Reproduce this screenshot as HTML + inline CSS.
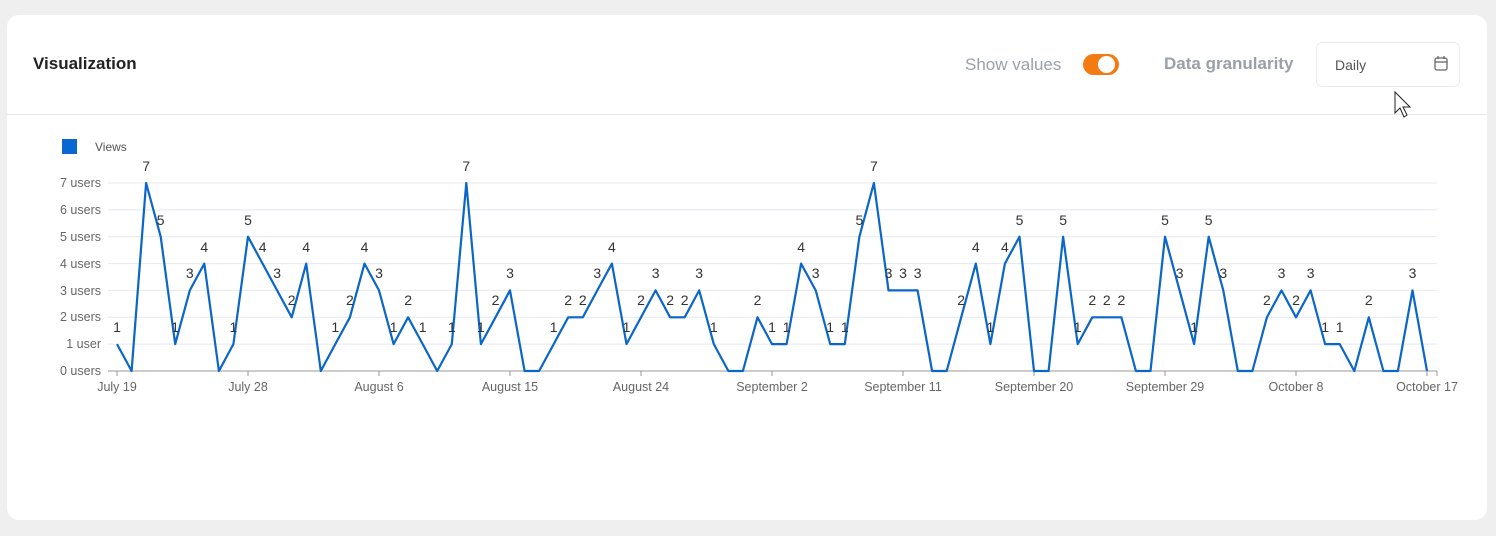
<!DOCTYPE html>
<html><head><meta charset="utf-8"><style>
html,body{margin:0;padding:0;width:1496px;height:536px;background:#efefef;overflow:hidden;font-family:"Liberation Sans",sans-serif}
.card{position:absolute;left:7px;top:15px;width:1480px;height:505px;background:#fff;border-radius:12px}
.sep{position:absolute;left:7px;top:114px;width:1480px;height:1px;background:#e6e6e6}
.t{position:absolute;white-space:nowrap}
</style></head><body>
<div class="card"></div>
<div class="sep"></div>
<div class="t" style="left:33px;top:54px;font-size:17px;font-weight:bold;color:#222">Visualization</div>
<div class="t" style="left:965px;top:55px;font-size:17px;color:#9aa0a8">Show values</div>
<div class="t" style="left:1083px;top:54px;width:36px;height:21px;border-radius:11px;background:#f47a14"></div>
<div class="t" style="left:1098px;top:56px;width:17px;height:17px;border-radius:50%;background:#fff"></div>
<div class="t" style="left:1164px;top:54px;font-size:17px;font-weight:bold;color:#9aa0a8">Data granularity</div>
<div class="t" style="left:1316px;top:42px;width:142px;height:43px;border:1px solid #ececec;border-radius:6px;background:#fff"></div>
<div class="t" style="left:1335px;top:57px;font-size:14px;color:#555">Daily</div>
<svg class="t" style="left:0;top:0" width="1496" height="536">
<g fill="none" stroke="#666" stroke-width="1.3"><rect x="1435" y="58" width="12" height="12" rx="2"/><line x1="1435" y1="62" x2="1447" y2="62"/><line x1="1438" y1="56" x2="1438" y2="59"/><line x1="1444" y1="56" x2="1444" y2="59"/></g>
<path d="M1395 92 L1395 113 L1400 108 L1404 117 L1407 115 L1403 107 L1410 107 Z" fill="#fff" stroke="#222" stroke-width="1"/>
<rect x="62" y="139" width="15" height="15" fill="#0a66d1"/>
<text x="95" y="151" font-size="12" fill="#555">Views</text>
<g stroke="#e4e8ef" stroke-width="1">
<line x1="108" y1="344.1" x2="1437" y2="344.1"/><line x1="108" y1="317.3" x2="1437" y2="317.3"/><line x1="108" y1="290.4" x2="1437" y2="290.4"/><line x1="108" y1="263.6" x2="1437" y2="263.6"/><line x1="108" y1="236.7" x2="1437" y2="236.7"/><line x1="108" y1="209.9" x2="1437" y2="209.9"/><line x1="108" y1="183" x2="1437" y2="183"/>
</g>
<g stroke="#999" stroke-width="1"><line x1="108" y1="371" x2="1437" y2="371"/>
<line x1="117" y1="371" x2="117" y2="376"/><line x1="248" y1="371" x2="248" y2="376"/><line x1="379" y1="371" x2="379" y2="376"/><line x1="510" y1="371" x2="510" y2="376"/><line x1="641" y1="371" x2="641" y2="376"/><line x1="772" y1="371" x2="772" y2="376"/><line x1="903" y1="371" x2="903" y2="376"/><line x1="1034" y1="371" x2="1034" y2="376"/><line x1="1165" y1="371" x2="1165" y2="376"/><line x1="1296" y1="371" x2="1296" y2="376"/><line x1="1427" y1="371" x2="1427" y2="376"/><line x1="1437" y1="371" x2="1437" y2="376"/></g>
<g font-size="12.5" fill="#666" text-anchor="end">
<text x="101" y="375">0 users</text><text x="101" y="348">1 user</text><text x="101" y="321">2 users</text><text x="101" y="295">3 users</text><text x="101" y="268">4 users</text><text x="101" y="241">5 users</text><text x="101" y="214">6 users</text><text x="101" y="187">7 users</text>
</g>
<g font-size="12.5" fill="#666" text-anchor="middle">
<text x="117" y="391">July 19</text><text x="248" y="391">July 28</text><text x="379" y="391">August 6</text><text x="510" y="391">August 15</text><text x="641" y="391">August 24</text><text x="772" y="391">September 2</text><text x="903" y="391">September 11</text><text x="1034" y="391">September 20</text><text x="1165" y="391">September 29</text><text x="1296" y="391">October 8</text><text x="1427" y="391">October 17</text>
</g>
<polyline fill="none" stroke="#0a66c8" stroke-width="2.2" stroke-linejoin="round" points="117,344.1 131.6,371 146.1,183 160.7,236.7 175.2,344.1 189.8,290.4 204.3,263.6 218.9,371 233.4,344.1 248,236.7 262.6,263.6 277.1,290.4 291.7,317.3 306.2,263.6 320.8,371 335.3,344.1 349.9,317.3 364.5,263.6 379,290.4 393.6,344.1 408.1,317.3 422.7,344.1 437.2,371 451.8,344.1 466.3,183 480.9,344.1 495.5,317.3 510,290.4 524.6,371 539.1,371 553.7,344.1 568.2,317.3 582.8,317.3 597.3,290.4 611.9,263.6 626.5,344.1 641,317.3 655.6,290.4 670.1,317.3 684.7,317.3 699.2,290.4 713.8,344.1 728.4,371 742.9,371 757.5,317.3 772,344.1 786.6,344.1 801.1,263.6 815.7,290.4 830.2,344.1 844.8,344.1 859.4,236.7 873.9,183 888.5,290.4 903,290.4 917.6,290.4 932.1,371 946.7,371 961.2,317.3 975.8,263.6 990.4,344.1 1004.9,263.6 1019.5,236.7 1034,371 1048.6,371 1063.1,236.7 1077.7,344.1 1092.3,317.3 1106.8,317.3 1121.4,317.3 1135.9,371 1150.5,371 1165,236.7 1179.6,290.4 1194.1,344.1 1208.7,236.7 1223.3,290.4 1237.8,371 1252.4,371 1266.9,317.3 1281.5,290.4 1296,317.3 1310.6,290.4 1325.1,344.1 1339.7,344.1 1354.3,371 1368.8,317.3 1383.4,371 1397.9,371 1412.5,290.4 1427,371"/>
<g font-size="14" fill="#333" text-anchor="middle">
<text x="117" y="332">1</text><text x="146.1" y="171">7</text><text x="160.7" y="225">5</text><text x="175.2" y="332">1</text><text x="189.8" y="278">3</text><text x="204.3" y="252">4</text><text x="233.4" y="332">1</text><text x="248" y="225">5</text><text x="262.6" y="252">4</text><text x="277.1" y="278">3</text><text x="291.7" y="305">2</text><text x="306.2" y="252">4</text><text x="335.3" y="332">1</text><text x="349.9" y="305">2</text><text x="364.5" y="252">4</text><text x="379" y="278">3</text><text x="393.6" y="332">1</text><text x="408.1" y="305">2</text><text x="422.7" y="332">1</text><text x="451.8" y="332">1</text><text x="466.3" y="171">7</text><text x="480.9" y="332">1</text><text x="495.5" y="305">2</text><text x="510" y="278">3</text>
<text x="553.7" y="332">1</text><text x="568.2" y="305">2</text><text x="582.8" y="305">2</text><text x="597.3" y="278">3</text><text x="611.9" y="252">4</text><text x="626.5" y="332">1</text><text x="641" y="305">2</text><text x="655.6" y="278">3</text><text x="670.1" y="305">2</text><text x="684.7" y="305">2</text><text x="699.2" y="278">3</text><text x="713.8" y="332">1</text><text x="757.5" y="305">2</text><text x="772" y="332">1</text><text x="786.6" y="332">1</text><text x="801.1" y="252">4</text><text x="815.7" y="278">3</text><text x="830.2" y="332">1</text><text x="844.8" y="332">1</text><text x="859.4" y="225">5</text><text x="873.9" y="171">7</text><text x="888.5" y="278">3</text><text x="903" y="278">3</text><text x="917.6" y="278">3</text><text x="961.2" y="305">2</text><text x="975.8" y="252">4</text>
<text x="990.4" y="332">1</text><text x="1004.9" y="252">4</text><text x="1019.5" y="225">5</text><text x="1063.1" y="225">5</text><text x="1077.7" y="332">1</text><text x="1092.3" y="305">2</text><text x="1106.8" y="305">2</text><text x="1121.4" y="305">2</text><text x="1165" y="225">5</text><text x="1179.6" y="278">3</text><text x="1194.1" y="332">1</text><text x="1208.7" y="225">5</text><text x="1223.3" y="278">3</text><text x="1266.9" y="305">2</text><text x="1281.5" y="278">3</text><text x="1296" y="305">2</text><text x="1310.6" y="278">3</text><text x="1325.1" y="332">1</text><text x="1339.7" y="332">1</text><text x="1368.8" y="305">2</text><text x="1412.5" y="278">3</text>
</g>
</svg>
</body></html>
